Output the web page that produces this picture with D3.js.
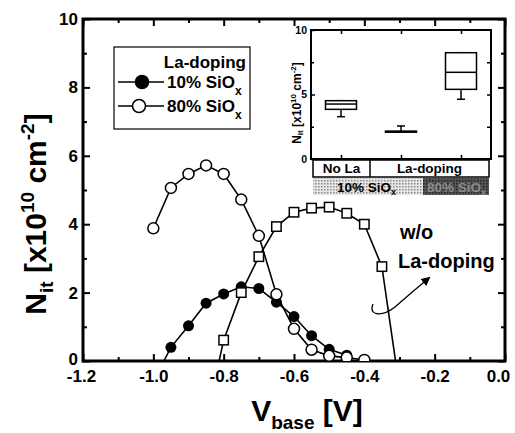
<!DOCTYPE html>
<html><head><meta charset="utf-8">
<script src="https://cdn.jsdelivr.net/npm/d3@7"></script>
<style>
body{margin:0;background:#fff}
text{font-family:"Liberation Sans",Arial,sans-serif;font-weight:bold;fill:#000}
</style>
</head><body><svg id="c" width="515" height="433"></svg>
<script>
// ---------- data ----------
const vbase10 = [-1.0,-0.95,-0.9,-0.85,-0.8,-0.75,-0.7,-0.65,-0.6,-0.55,-0.5,-0.45];
const nit10   = [-0.6,0.40,1.03,1.69,1.96,2.17,2.12,1.72,1.30,0.74,0.34,0.17];
const vbase80 = [-1.0,-0.95,-0.9,-0.85,-0.8,-0.75,-0.7,-0.65,-0.6,-0.55,-0.5,-0.45,-0.4];
const nit80   = [3.88,5.06,5.47,5.72,5.47,4.72,3.66,1.95,0.94,0.33,0.15,0.10,0.03];
const vbaseWo = [-0.85,-0.8,-0.75,-0.7,-0.65,-0.6,-0.55,-0.5,-0.45,-0.4,-0.35,-0.3];
const nitWo   = [-1.74,0.61,2.00,3.05,3.93,4.35,4.47,4.50,4.32,4.00,2.76,-0.8];
const xTicks = [-1.2,-1.0,-0.8,-0.6,-0.4,-0.2,0.0];
const yTicks = [0,2,4,6,8,10];
const legendLabels = ["10% SiO","80% SiO"];

// inset box plot
const insetCats  = ["No La","La 10%","La 80%"];
const boxQ1      = [3.85,2.08,5.40];
const boxMedian  = [4.26,2.12,6.72];
const boxQ3      = [4.52,2.16,8.24];
const boxWhLow   = [3.28,2.12,4.63];
const boxWhHigh  = [4.52,2.56,8.24];
const insetYTicks = [0,5,10];

// ---------- layout ----------
const svg = d3.select("#c");
const x = d3.scaleLinear().domain([-1.2,0]).range([83,505]);
const y = d3.scaleLinear().domain([0,10]).range([361,19]);

svg.append("defs").append("clipPath").attr("id","clip")
  .append("rect").attr("x",83).attr("y",19).attr("width",422).attr("height",342);

const fmtX = d => d.toFixed(1);
function styleAxis(g){ g.select(".domain").remove(); g.selectAll("line").attr("stroke","#000").attr("stroke-width",2);
  g.selectAll("text").attr("font-size",17).attr("font-family","Liberation Sans, Arial, sans-serif").attr("font-weight","bold"); }
const minorX = d3.range(-1.1,0,0.2).map(v=>+v.toFixed(2));
const minorY = [1,3,5,7,9];
const xAx = svg.append("g").attr("transform","translate(0,361)").call(d3.axisBottom(x).tickValues(xTicks).tickSize(-7).tickPadding(9).tickFormat(fmtX)).call(styleAxis);
xAx.selectAll(".tick").filter(d=>d===0).select("text").attr("dx",-7);
xAx.selectAll(".tick").filter(d=>d===-1.2).select("text").attr("dx",-2);
svg.append("g").attr("transform","translate(0,361)").call(d3.axisBottom(x).tickValues(minorX).tickSize(-4).tickFormat("")).call(styleAxis);
svg.append("g").attr("transform","translate(0,19)").call(d3.axisTop(x).tickValues(xTicks).tickSize(-7).tickFormat("")).call(styleAxis);
svg.append("g").attr("transform","translate(0,19)").call(d3.axisTop(x).tickValues(minorX).tickSize(-4).tickFormat("")).call(styleAxis);
const yAx = svg.append("g").attr("transform","translate(83,0)").call(d3.axisLeft(y).tickValues(yTicks).tickSize(-7).tickPadding(5).tickFormat(d3.format("d"))).call(styleAxis);
yAx.selectAll(".tick").filter(d=>d===0).select("text").attr("dy","0.2em");
svg.append("g").attr("transform","translate(83,0)").call(d3.axisLeft(y).tickValues(minorY).tickSize(-4).tickFormat("")).call(styleAxis);
svg.append("g").attr("transform","translate(505,0)").call(d3.axisRight(y).tickValues(yTicks).tickSize(-7).tickFormat("")).call(styleAxis);
svg.append("g").attr("transform","translate(505,0)").call(d3.axisRight(y).tickValues(minorY).tickSize(-4).tickFormat("")).call(styleAxis);
svg.append("rect").attr("x",83).attr("y",19).attr("width",422).attr("height",342)
  .attr("fill","none").attr("stroke","#000").attr("stroke-width",3);

// axis titles
const yt = svg.append("text").attr("transform","translate(46,214) rotate(-90)").attr("text-anchor","middle").attr("font-size",30);
yt.append("tspan").text("N");
yt.append("tspan").attr("font-size",19).attr("dy",7).text("it");
yt.append("tspan").attr("dy",-7).text(" [x10");
yt.append("tspan").attr("font-size",19).attr("dy",-12).text("10");
yt.append("tspan").attr("dy",12).text(" cm");
yt.append("tspan").attr("font-size",19).attr("dy",-12).text("-2");
yt.append("tspan").attr("dy",12).text("]");
const xt = svg.append("text").attr("x",307).attr("y",421).attr("text-anchor","middle").attr("font-size",30);
xt.append("tspan").text("V");
xt.append("tspan").attr("font-size",19).attr("dy",8).text("base");
xt.append("tspan").attr("dy",-8).text(" [V]");

// series
const plot = svg.append("g").attr("clip-path","url(#clip)");
const line = d3.line().x(d=>x(d[0])).y(d=>y(d[1]));
const s10 = vbase10.map((v,i)=>[v,nit10[i]]);
const s80 = vbase80.map((v,i)=>[v,nit80[i]]);
const sWo = vbaseWo.map((v,i)=>[v,nitWo[i]]);
plot.append("path").datum(s10).attr("d",line).attr("fill","none").attr("stroke","#000").attr("stroke-width",1.6);
plot.selectAll(".f").data(s10.filter(d=>d[1]>=0)).join("circle").attr("cx",d=>x(d[0])).attr("cy",d=>y(d[1])).attr("r",5.5).attr("fill","#000");
plot.append("path").datum(s80).attr("d",line).attr("fill","none").attr("stroke","#000").attr("stroke-width",1.6);
plot.selectAll(".o").data(s80.filter(d=>d[1]>=0)).join("circle").attr("cx",d=>x(d[0])).attr("cy",d=>y(d[1])).attr("r",5.5).attr("fill","#fff").attr("stroke","#000").attr("stroke-width",1.5);
plot.append("path").datum(sWo).attr("d",line).attr("fill","none").attr("stroke","#000").attr("stroke-width",1.6);
plot.selectAll(".s").data(sWo.filter(d=>d[1]>=0)).join("rect").attr("x",d=>x(d[0])-4.7).attr("y",d=>y(d[1])-4.7).attr("width",9.4).attr("height",9.4).attr("fill","#fff").attr("stroke","#000").attr("stroke-width",1.5);

// annotation
svg.append("text").attr("x",400).attr("y",239).attr("font-size",20).text("w/o");
svg.append("text").attr("x",398).attr("y",268).attr("font-size",20).text("La-doping");
svg.append("defs").append("marker").attr("id","ah").attr("viewBox","0 0 10 10").attr("refX",8).attr("refY",5)
  .attr("markerWidth",7).attr("markerHeight",7).attr("orient","auto")
  .append("path").attr("d","M0,0 L10,5 L0,10 z").attr("fill","#000");
svg.append("path").attr("d","M373,304 C368,316 382,317 395,307 Q412,292 429,278")
  .attr("fill","none").attr("stroke","#000").attr("stroke-width",1.3).attr("marker-end","url(#ah)");

// legend
const lg = svg.append("g");
lg.append("rect").attr("x",114).attr("y",47).attr("width",136).attr("height",82).attr("fill","#fff").attr("stroke","#000").attr("stroke-width",1.2);
lg.append("text").attr("x",246).attr("y",68).attr("text-anchor","end").attr("font-size",17).text("La-doping");
legendLabels.forEach((t,i)=>{
  const yy = 82 + i*24;
  lg.append("line").attr("x1",118).attr("x2",164).attr("y1",yy).attr("y2",yy).attr("stroke","#000").attr("stroke-width",1.6);
  lg.append("circle").attr("cx",i?139:142).attr("cy",yy).attr("r",6.5).attr("fill",i?"#fff":"#000").attr("stroke","#000").attr("stroke-width",1.5);
  const tx = lg.append("text").attr("x",167).attr("y",yy+6).attr("font-size",17);
  tx.append("tspan").text(t);
  tx.append("tspan").attr("font-size",12).attr("dy",7).text("x");
});

// ---------- inset ----------
const ix = d3.scaleBand().domain(insetCats).range([311,491]);
const iy = d3.scaleLinear().domain([0,10]).range([159,30]);
const ins = svg.append("g");
ins.append("rect").attr("x",311).attr("y",30).attr("width",180).attr("height",129).attr("fill","#fff");
function styleIn(g){ g.select(".domain").remove(); g.selectAll("line").attr("stroke","#000").attr("stroke-width",1.5);
  g.selectAll("text").attr("font-size",10.5).attr("font-family","Liberation Sans, Arial, sans-serif").attr("font-weight","bold"); }
const cx = d => ix(d)+ix.bandwidth()/2;
const catPos = d3.scaleOrdinal(insetCats, insetCats.map(cx));
ins.append("g").attr("transform","translate(311,0)").call(d3.axisLeft(iy).tickValues(insetYTicks).tickSize(-4).tickPadding(4).tickFormat(d3.format("d"))).call(styleIn);
ins.append("g").attr("transform","translate(311,0)").call(d3.axisLeft(iy).tickValues([2.5,7.5]).tickSize(-3).tickFormat("")).call(styleIn);
ins.append("g").attr("transform","translate(491,0)").call(d3.axisRight(iy).tickValues([2.5,5,7.5]).tickSize(-4).tickFormat("")).call(styleIn);
ins.append("g").attr("transform","translate(0,30)").call(d3.axisTop(catPos).tickValues(insetCats).tickSize(-4).tickFormat("")).call(styleIn);
ins.append("g").attr("transform","translate(0,159)").call(d3.axisBottom(catPos).tickValues(insetCats).tickSize(-4).tickFormat("")).call(styleIn);
ins.append("rect").attr("x",311).attr("y",30).attr("width",180).attr("height",129).attr("fill","none").attr("stroke","#000").attr("stroke-width",2);
const bw = 31;
insetCats.forEach((c,i)=>{
  const m = cx(c);
  ins.append("line").attr("x1",m).attr("x2",m).attr("y1",iy(boxWhLow[i])).attr("y2",iy(boxQ1[i])).attr("stroke","#000").attr("stroke-width",1.5);
  ins.append("line").attr("x1",m-4).attr("x2",m+4).attr("y1",iy(boxWhLow[i])).attr("y2",iy(boxWhLow[i])).attr("stroke","#000").attr("stroke-width",1.5);
  ins.append("line").attr("x1",m).attr("x2",m).attr("y1",iy(boxWhHigh[i])).attr("y2",iy(boxQ3[i])).attr("stroke","#000").attr("stroke-width",1.5);
  ins.append("line").attr("x1",m-4).attr("x2",m+4).attr("y1",iy(boxWhHigh[i])).attr("y2",iy(boxWhHigh[i])).attr("stroke","#000").attr("stroke-width",1.5);
  ins.append("rect").attr("x",m-bw/2).attr("y",iy(boxQ3[i])).attr("width",bw).attr("height",Math.max(1,iy(boxQ1[i])-iy(boxQ3[i]))).attr("fill","#fff").attr("stroke","#000").attr("stroke-width",1.5);
  ins.append("line").attr("x1",m-bw/2).attr("x2",m+bw/2).attr("y1",iy(boxMedian[i])).attr("y2",iy(boxMedian[i])).attr("stroke","#000").attr("stroke-width",1.5);
});
const iyt = ins.append("text").attr("transform","translate(301,103) rotate(-90)").attr("text-anchor","middle").attr("font-size",12);
iyt.append("tspan").text("N");
iyt.append("tspan").attr("font-size",8).attr("dy",2).text("it");
iyt.append("tspan").attr("dy",-2).text(" [x10");
iyt.append("tspan").attr("font-size",8).attr("dy",-5).text("10");
iyt.append("tspan").attr("dy",5).text(" cm");
iyt.append("tspan").attr("font-size",8).attr("dy",-5).text("-2");
iyt.append("tspan").attr("dy",5).text("]");

// table under inset
const defs = svg.append("defs");
const p1 = defs.append("pattern").attr("id","pl").attr("width",3).attr("height",3).attr("patternUnits","userSpaceOnUse");
p1.append("rect").attr("width",3).attr("height",3).attr("fill","#e6e6e6");
p1.append("rect").attr("width",1.5).attr("height",1.5).attr("fill","#8a8a8a");
const p2 = defs.append("pattern").attr("id","pd").attr("width",3).attr("height",3).attr("patternUnits","userSpaceOnUse");
p2.append("rect").attr("width",3).attr("height",3).attr("fill","#555");
p2.append("rect").attr("width",1.5).attr("height",1.5).attr("fill","#222");
ins.append("rect").attr("x",313).attr("y",160).attr("width",176).attr("height",17).attr("fill","#fff").attr("stroke","#000").attr("stroke-width",1.5);
ins.append("line").attr("x1",370).attr("x2",370).attr("y1",160).attr("y2",177).attr("stroke","#000").attr("stroke-width",1.5);
ins.append("text").attr("x",341.5).attr("y",173).attr("text-anchor","middle").attr("font-size",13.5).text("No La");
ins.append("text").attr("x",429.5).attr("y",173).attr("text-anchor","middle").attr("font-size",13.5).text("La-doping");
ins.append("rect").attr("x",313).attr("y",178).attr("width",110).attr("height",17).attr("fill","url(#pl)");
ins.append("rect").attr("x",423).attr("y",178).attr("width",66).attr("height",17).attr("fill","url(#pd)");
const t1 = ins.append("text").attr("x",337).attr("y",192).attr("font-size",13.5);
t1.append("tspan").text("10% SiO"); t1.append("tspan").attr("font-size",9).attr("dy",3).text("x");
const t2 = ins.append("text").attr("x",427).attr("y",192).attr("font-size",13.5).style("fill","#8c8c8c");
t2.append("tspan").text("80% SiO"); t2.append("tspan").attr("font-size",9).attr("dy",3).text("x");
</script></body></html>
